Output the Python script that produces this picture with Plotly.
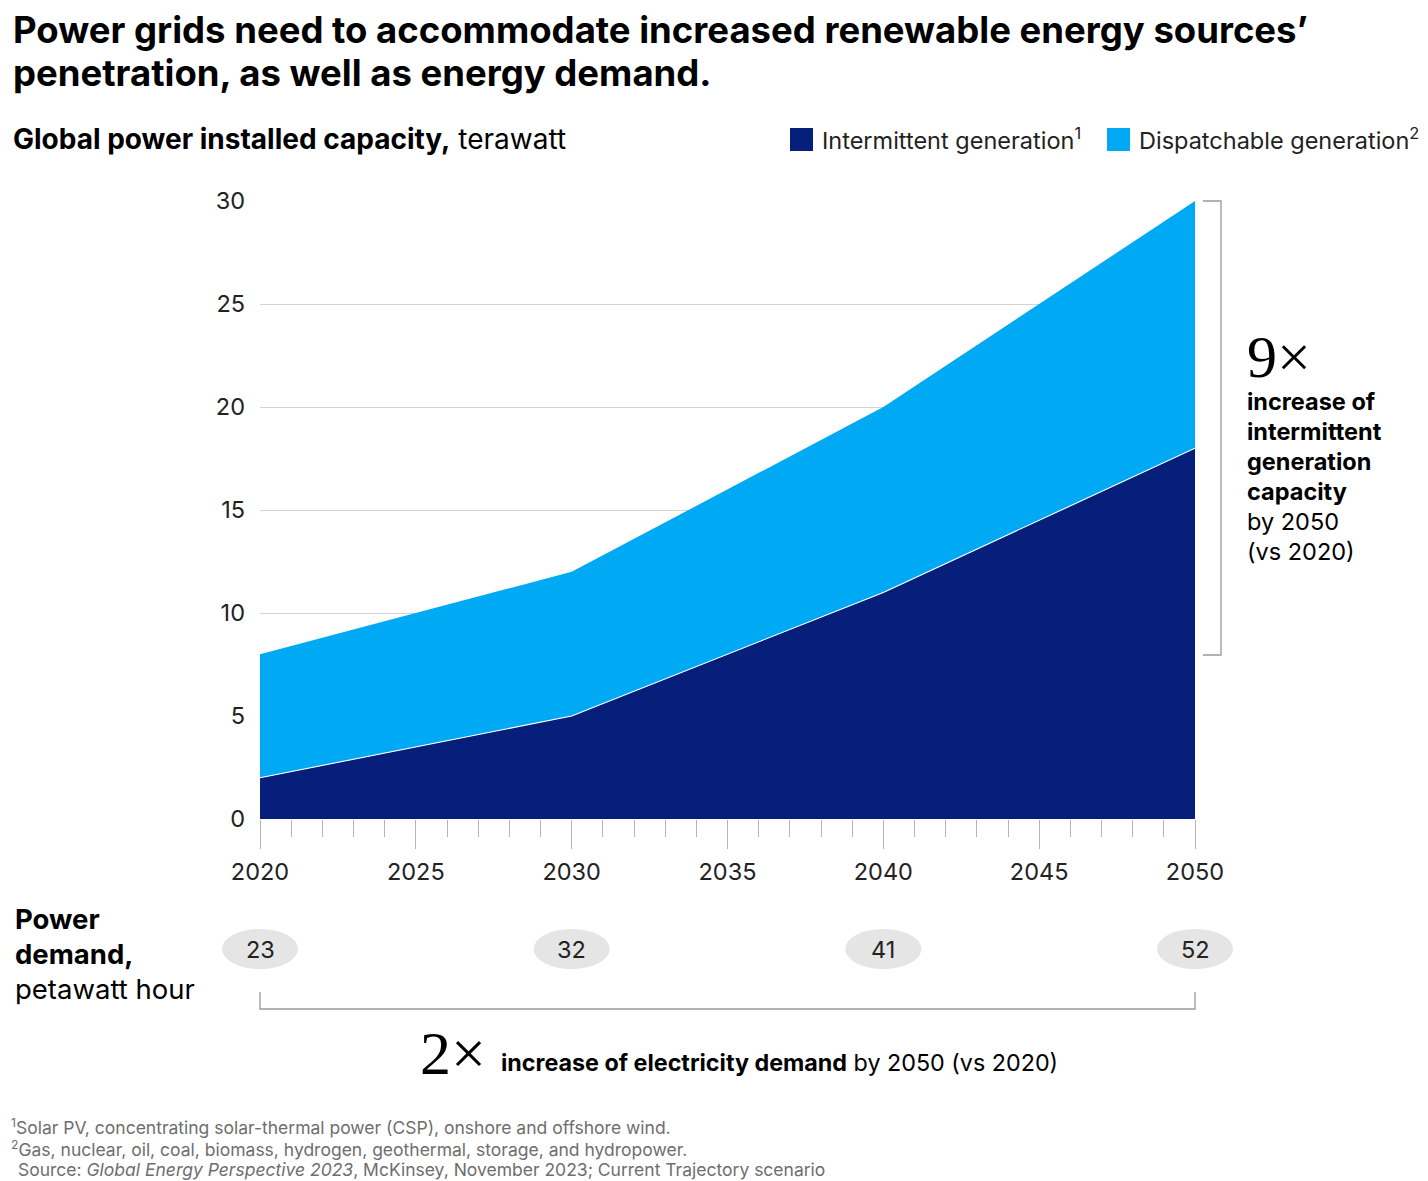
import plotly.graph_objects as go

years = [2020, 2030, 2040, 2050]
intermittent = [2, 5, 11, 18]
dispatchable = [6, 7, 9, 12]
demand_years = [2020, 2030, 2040, 2050]
demand_values = [23, 32, 41, 52]
y_ticks = [0, 5, 10, 15, 20, 25, 30]
X_RANGE = [2020, 2050]
Y_RANGE = [0, 30]

DARK = "#061f7a"
LIGHT = "#00a9f4"
FONT = "Inter"
SERIF = "Liberation Serif"

OFF = 8  # page body margin
W, H = 1428 - OFF, 1181 - OFF
# plot area in page pixels
L, R, T, B = 260, 1195, 201, 819


def px(x):
    return (x - L) / (R - L)


def py(y):
    return (B - y) / (B - T)


def xdata_to_paper(v):
    return (v - X_RANGE[0]) / (X_RANGE[1] - X_RANGE[0])


fig = go.Figure()
fig.add_trace(go.Scatter(
    x=years, y=intermittent, stackgroup="one", mode="lines",
    line=dict(color="white", width=1.1), fillcolor=DARK,
    name="Intermittent generation", showlegend=False, hoverinfo="skip"))
fig.add_trace(go.Scatter(
    x=years, y=dispatchable, stackgroup="one", mode="lines",
    line=dict(color=LIGHT, width=0), fillcolor=LIGHT,
    name="Dispatchable generation", showlegend=False, hoverinfo="skip"))

fig.update_layout(
    width=W, height=H,
    margin=dict(l=L - OFF, r=W - (R - OFF), t=T - OFF, b=H - (B - OFF)),
    paper_bgcolor="white", plot_bgcolor="white",
    font=dict(family=FONT, color="#222"),
    xaxis=dict(range=X_RANGE, tickmode="linear", tick0=2020, dtick=5,
               ticks="outside", ticklen=29, tickcolor="#b5b5b5", tickwidth=1,
               showgrid=False, zeroline=False, showline=False,
               tickfont=dict(size=23.5, color="#222", family=FONT),
               ticklabelstandoff=3,
               minor=dict(dtick=1, tick0=2020, ticks="outside", ticklen=17,
                          tickcolor="#b5b5b5", tickwidth=1, showgrid=False)),
    yaxis=dict(range=Y_RANGE, tickvals=y_ticks, ticks="", showgrid=True,
               gridcolor="#d4d4d4", gridwidth=1, zeroline=False, showline=False,
               tickfont=dict(size=23.5, color="#222", family=FONT),
               ticklabelstandoff=14),
)

ann = []
shapes = []


def text(x, y, s, size, color="#000", family=FONT, xanchor="left", yanchor="middle"):
    ann.append(dict(xref="paper", yref="paper", x=px(x - 2), y=py(y), xanchor=xanchor,
                    yanchor=yanchor, showarrow=False, text=s, align="left",
                    font=dict(size=size, color=color, family=family)))


# Title
text(13, 30, "<b>Power grids need to accommodate increased renewable energy sources’</b>", 36.5)
text(13, 73, "<b>penetration, as well as energy demand.</b>", 36.5)
# Subtitle
text(13, 139, "<b>Global power installed capacity,</b> terawatt", 28)
# Legend
for sx, col, label in [(790, DARK, "Intermittent generation<sup>1</sup>"),
                       (1107, LIGHT, "Dispatchable generation<sup>2</sup>")]:
    shapes.append(dict(type="rect", xref="paper", yref="paper",
                       x0=px(sx), x1=px(sx + 23), y0=py(151), y1=py(128),
                       fillcolor=col, line=dict(width=0)))
    text(sx + 32, 139, label, 23.5, color="#222")

# Right bracket
bx = 1221
shapes.append(dict(type="path", xref="paper", yref="paper",
                   path=f"M {px(1203)} {py(T)} L {px(bx)} {py(T)} L {px(bx)} {py(655)} L {px(1203)} {py(655)}",
                   line=dict(color="#999", width=1.3)))
text(1247, 357, "9×", 60, family=SERIF)
right_lines = ["<b>increase of</b>", "<b>intermittent</b>", "<b>generation</b>",
               "<b>capacity</b>", "by 2050", "(vs 2020)"]
for i, s in enumerate(right_lines):
    text(1247, 401 + 30 * i, s, 23.5)

# Power demand
for i, s in enumerate(["<b>Power</b>", "<b>demand,</b>", "petawatt hour"]):
    text(15, 919 + 35 * i, s, 27.5)
for yr, v in zip(demand_years, demand_values):
    xa = xdata_to_paper(yr)
    shapes.append(dict(type="circle", xref="paper", yref="paper", xsizemode="pixel", ysizemode="pixel",
                       xanchor=xa, yanchor=py(949), x0=-38, x1=38, y0=-20, y1=20,
                       fillcolor="#e5e5e5", line=dict(width=0)))
    ann.append(dict(xref="paper", yref="paper", x=xa, y=py(949), xanchor="center", yanchor="middle",
                    showarrow=False, text=str(v), font=dict(size=23.5, color="#222", family=FONT)))

# Bottom bracket
shapes.append(dict(type="path", xref="paper", yref="paper",
                   path=f"M {px(260)} {py(992)} L {px(260)} {py(1009)} L {px(1195)} {py(1009)} L {px(1195)} {py(992)}",
                   line=dict(color="#999", width=1.3)))
text(420, 1053, "2×", 62, family=SERIF)
text(501, 1062, "<b>increase of electricity demand</b> by 2050 (vs 2020)", 23.3)

# Footnotes
text(11, 1126, "<sup>1</sup>Solar PV, concentrating solar-thermal power (CSP), onshore and offshore wind.", 17.5, color="#6e6e6e")
text(11, 1148, "<sup>2</sup>Gas, nuclear, oil, coal, biomass, hydrogen, geothermal, storage, and hydropower.", 17.5, color="#6e6e6e")
text(18, 1169, "Source: <i>Global Energy Perspective 2023</i>, McKinsey, November 2023; Current Trajectory scenario", 17.5, color="#6e6e6e")

fig.update_layout(annotations=ann, shapes=shapes)
fig.write_html("out.html")
